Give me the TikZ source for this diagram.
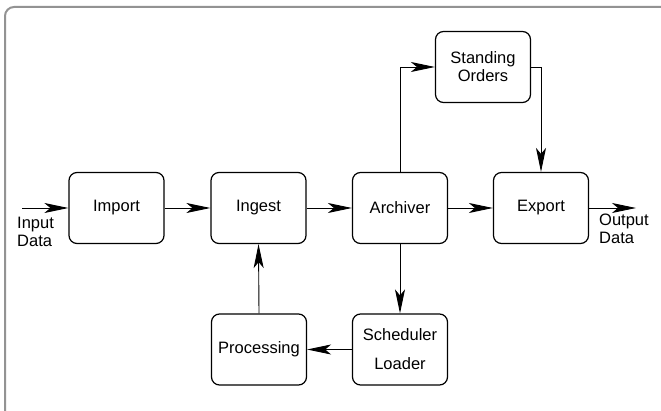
\documentclass[tikz,border=0pt]{standalone}
\usepackage{fontspec}
\setmainfont{Liberation Sans}
\usetikzlibrary{arrows.meta}
\begin{document}
\begin{tikzpicture}[x=1pt,y=-1pt,
  block/.style={draw=black, line width=1.2pt, rounded corners=8pt,
    minimum width=95pt, minimum height=71pt, inner sep=0pt,
    font=\fontsize{16.5}{18}\selectfont, align=center},
  flow/.style={draw=black, line width=0.9pt,
    -{Stealth[length=24pt,width=10pt,inset=6pt]}},
  tag/.style={font=\fontsize{16.5}{18}\selectfont, align=left, inner sep=0pt}]
\useasboundingbox (0,0) rectangle (661,411);
% outer frame, running off the right and bottom edges
\draw[gray!85, line width=2pt, rounded corners=9pt] (5,414) -- (5,7) -- (665,7);

% blocks
\node[block] (import)  at (116.5,208) {Import};
\node[block] (ingest)  at (258.5,208) {Ingest};
\node[block] (arch)    at (400,208)   {Archiver};
\node[block] (export)  at (541,208)   {Export};
\node[block] (orders)  at (483,67)    {Standing\\Orders};
\node[block] (proc)    at (259,349.5) {Processing};
\node[block, font=\fontsize{16.5}{29}\selectfont] (sched) at (400,349.5) {Scheduler\\Loader};

% free ends
\coordinate (in)  at (22,208);
\coordinate (out) at (636,208);

% labels
\node[tag, anchor=north west] (inlbl)  at (17,217) {Input\\Data};
\node[tag, anchor=north west] (outlbl) at (599,214) {Output\\Data};

% connectors
\draw[flow] (in) -- (import.west);
\draw[flow] (import) -- (ingest);
\draw[flow] (ingest) -- (arch);
\draw[flow] (arch) -- (export);
\draw[flow] (export.east) -- (out);
\draw[flow] (arch.north) |- (orders.west);
\draw[flow] (orders.east) -| (export.north);
\draw[flow] (arch.south) -- (sched.north);
\draw[flow] (sched) -- (proc);
\draw[flow] (proc.north) -- (ingest.south);
\end{tikzpicture}
\end{document}
